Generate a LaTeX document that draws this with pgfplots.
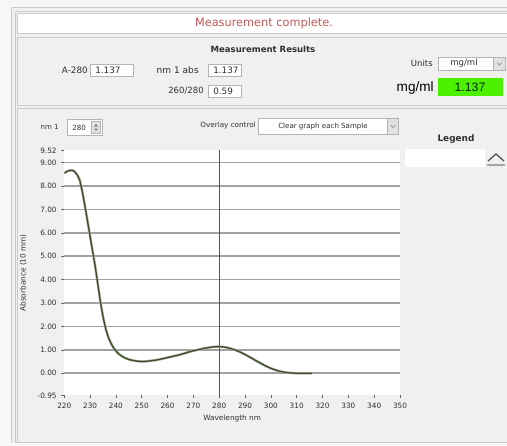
\documentclass[border=0pt]{standalone}
\usepackage{pgfplots}
\pgfplotsset{compat=1.18}
\usepackage{pgfplotstable}
\usepackage{fontspec}
\setmainfont{DejaVu Sans}
\newfontfamily\arial{Liberation Sans}
\definecolor{outer}{HTML}{F7F7F7}
\definecolor{panel}{HTML}{F0F0F0}
\definecolor{bord}{HTML}{CACACA}
\definecolor{boxb}{HTML}{B4B4B4}
\definecolor{msgred}{HTML}{C05858}
\definecolor{curve}{HTML}{3E4E2A}
\definecolor{gridc}{HTML}{A2A2A2}
\definecolor{cursor}{HTML}{3E5688}
\definecolor{lime}{HTML}{4CF000}
\definecolor{txt}{HTML}{303030}
\definecolor{arrowbox}{HTML}{E2E2E2}
\newcommand\fs[1]{\fontsize{#1}{#1}\selectfont}
\pgfplotstableread{
nm A
220 8.55
221 8.62
222 8.66
223 8.67
224 8.62
225 8.48
226 8.25
227 7.75
228 7.15
229 6.50
230 5.85
231 5.20
232 4.55
233 3.80
234 3.05
235 2.42
236 1.92
237 1.55
238 1.30
239 1.10
240 0.95
241 0.84
242 0.75
243 0.68
244 0.63
245 0.59
246 0.56
247 0.54
248 0.52
250 0.50
252 0.51
254 0.54
256 0.57
258 0.62
260 0.67
262 0.72
264 0.77
266 0.83
268 0.90
270 0.96
272 1.01
274 1.06
276 1.10
278 1.13
280 1.137
282 1.12
284 1.07
286 1.00
288 0.91
290 0.80
292 0.68
294 0.55
296 0.43
298 0.31
300 0.21
302 0.13
304 0.07
306 0.03
308 0.01
310 0.00
316 0.00
}\spectrum
\begin{document}
\begin{tikzpicture}
\begin{scope}[x=0.75pt,y=-0.75pt]
\path[use as bounding box] (0,0) rectangle (507,446);
\fill[outer] (0,0) rectangle (507,446);
\fill[panel] (11,7) rectangle (507,443);
\draw[bord] (11.5,7.5) -- (507,7.5);
\draw[bord] (11.5,7.5) -- (11.5,443);
\draw[bord] (15.5,11.5) -- (507,11.5);
\draw[bord] (15.5,11.5) -- (15.5,442.5) -- (507,442.5);
% message bar
\draw[bord,fill=white] (17.5,13.5) rectangle (510,33.5);
\node[text=msgred,font=\fs{8.5}] at (264,23) {Measurement complete.};
% results panel
\draw[bord] (17.5,37.5) rectangle (510,105.5);
\node[text=txt,font=\fs{6.4}\bfseries] at (263,49) {Measurement Results};
\node[text=txt,font=\fs{6.6},anchor=east,inner sep=0pt] at (88,70) {A-280};
\draw[boxb,fill=white] (90.5,64.5) rectangle (133.5,76.5);
\node[text=txt,font=\fs{6.6},anchor=west,inner sep=0pt] at (95,70.5) {1.137};
\node[text=txt,font=\fs{6.8},anchor=east,inner sep=0pt] at (199,70) {nm 1 abs};
\draw[boxb,fill=white] (208.5,64.5) rectangle (241.5,76.5);
\node[text=txt,font=\fs{6.6},anchor=west,inner sep=0pt] at (213,70.5) {1.137};
\node[text=txt,font=\fs{6.4},anchor=east,inner sep=0pt] at (204,91) {260/280};
\draw[boxb,fill=white] (208.5,85.5) rectangle (241.5,97.5);
\node[text=txt,font=\fs{6.6},anchor=west,inner sep=0pt] at (213,91.5) {0.59};
\node[text=txt,font=\fs{6.4},anchor=east,inner sep=0pt] at (433,63) {Units};
\draw[boxb,fill=white] (438.5,57.5) rectangle (493.5,70.5);
\node[text=txt,font=\fs{6.4}] at (464,63.5) {mg/ml};
\draw[boxb,fill=arrowbox] (493.5,57.5) rectangle (505.5,70.5);
\draw[gray,line width=0.5pt] (497,62.5) -- (499.5,65) -- (502,62.5);
\node[text=black,font=\arial\fs{10.2},anchor=east,inner sep=0pt] at (434,87.5) {mg/ml};
\fill[lime] (438,78) rectangle (503,96);
\node[text=black!85!green,font=\arial\fs{9.2}] at (470,87) {1.137};
% graph panel
\draw[bord] (17.5,108.5) rectangle (510,442.5);
\node[text=txt,font=\fs{5.3},anchor=east,inner sep=0pt] at (59,127) {nm 1};
\draw[boxb,fill=white] (67.5,119.5) rectangle (102.5,135.5);
\node[text=txt,font=\fs{5.3},anchor=west,inner sep=0pt] at (72,127.5) {280};
\draw[boxb,fill=arrowbox] (91.5,121.5) rectangle (100.5,133.5);
\fill[gray] (94,126.5) -- (96,124) -- (98,126.5) -- cycle;
\fill[gray] (94,128.5) -- (96,131) -- (98,128.5) -- cycle;
\node[text=txt,font=\fs{5.4},anchor=east,inner sep=0pt] at (256,126) {Overlay control};
\draw[boxb,fill=white] (258.5,118.5) rectangle (387.5,134.5);
\node[text=txt,font=\fs{5.3}] at (323,126.5) {Clear graph each Sample};
\draw[boxb,fill=arrowbox] (387.5,118.5) rectangle (398.5,134.5);
\draw[gray,line width=0.5pt] (390.5,125) -- (393,127.5) -- (395.5,125);
\node[text=txt,font=\fs{6.7}\bfseries] at (456,139.5) {Legend};
\fill[white] (405,149) rectangle (485,167);
\draw[black!70,line width=0.9pt] (488,161) -- (496,154) -- (504,161);
\draw[gray!70,line width=0.8pt] (487,165) -- (505,165);
\end{scope}
\begin{axis}[
  at={(48.2pt,-296.6pt)}, anchor=south west,
  scale only axis, width=251.8pt, height=183.8pt,
  xmin=220, xmax=350, ymin=-0.95, ymax=9.52,
  axis background/.style={fill=white},
  axis line style={draw=none},
  xtick={220,230,...,350},
  ytick={0,1,...,9},
  extra y ticks={-0.95,9.52},
  extra y tick style={grid=none},
  ymajorgrids,
  major grid style={gridc,line width=1.3pt},
  xtick pos=bottom, ytick pos=left,
  tick align=outside, major tick length=2.2pt,
  tick style={black!60,line width=0.4pt},
  /pgf/number format/assume math mode=true,
  yticklabel style={/pgf/number format/.cd,fixed,fixed zerofill,precision=2},
  xticklabel style={/pgf/number format/.cd,fixed,precision=0},
  ticklabel style={font=\fs{5.5},text=txt},
  xlabel={Wavelength nm}, ylabel={Absorbance (10 mm)},
  label style={font=\fs{5.5},text=txt},
  xlabel style={yshift=2pt},
  ylabel style={yshift=-1pt},
  clip=true,
]
\addplot[cursor,line width=0.6pt] coordinates {(280,-0.95) (280,9.52)};
\addplot[curve!40,line width=1.9pt,line join=round] table[x=nm,y=A] {\spectrum};
\addplot[curve,line width=1.0pt,line join=round] table[x=nm,y=A] {\spectrum};
\end{axis}
\end{tikzpicture}
\end{document}
